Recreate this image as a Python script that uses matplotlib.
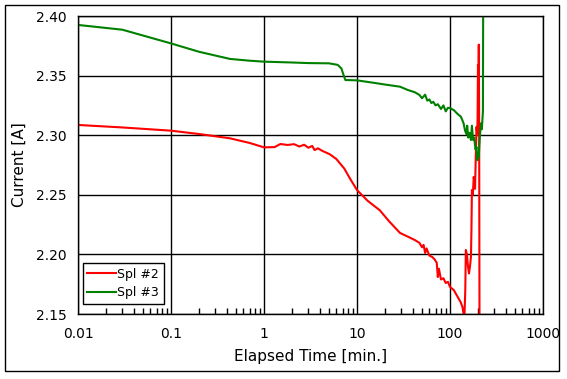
import numpy as np
import matplotlib
matplotlib.use("Agg")
import matplotlib.pyplot as plt
from matplotlib.patches import Rectangle
from matplotlib.ticker import LogLocator, NullFormatter

# values (time in min, current in A)
t_spl2 = [0.01, 0.03, 0.1, 0.2, 0.43, 0.7, 1.0, 1.3, 1.5, 1.8, 2.1, 2.4, 2.7, 3.0, 3.3, 3.5, 3.8, 4.2,
          5.1, 6.0, 7.3, 8.5, 10, 13, 17.6, 22, 29, 35, 42, 47, 50, 52, 54, 56, 60, 64, 68, 72, 74, 76,
          80, 85, 90, 95, 100, 110, 121, 130, 136, 140, 143, 146, 148, 152, 156, 160, 164, 168, 170,
          172, 176, 180, 186, 189, 193, 196, 198, 200, 202, 204, 206, 208, 210]
i_spl2 = [2.3086, 2.3065, 2.3038, 2.3010, 2.2974, 2.2935, 2.2898, 2.2900, 2.2926, 2.2918, 2.2925, 2.2905,
          2.2920, 2.2895, 2.2910, 2.2875, 2.2890, 2.2870, 2.2840, 2.2800, 2.2720, 2.2630, 2.2540,
          2.2450, 2.2370, 2.2280, 2.2180, 2.2150, 2.2120, 2.2096, 2.2060, 2.2080, 2.2012, 2.2050,
          2.1990, 2.1980, 2.1960, 2.1930, 2.1810, 2.1880, 2.1790, 2.1800, 2.1760, 2.1770, 2.1727,
          2.1700, 2.1643, 2.1600, 2.1560, 2.1500, 2.1480, 2.1700, 2.2037, 2.2000, 2.1900, 2.1840,
          2.1900, 2.1980, 2.2200, 2.2540, 2.2500, 2.2650, 2.2550, 2.2800, 2.3070, 2.3000, 2.3140,
          2.3590, 2.3300, 2.3760, 2.3000, 2.1000, 2.1000]

t_spl3 = [0.01, 0.03, 0.1, 0.2, 0.43, 0.7, 1.0, 2.0, 3.0, 5.0, 6.2, 6.8, 7.2, 7.5, 10, 15, 20, 29,
          35, 42, 47, 50, 54, 57, 60, 63, 66, 70, 74, 77, 80, 85, 90, 95, 100, 110, 120, 131, 140,
          145, 150, 153, 157, 162, 168, 172, 177, 182, 188, 193, 197, 200, 204, 208, 212, 216, 220,
          224, 226, 228]
i_spl3 = [2.3925, 2.3885, 2.3770, 2.3700, 2.3640, 2.3625, 2.3617, 2.3610, 2.3605, 2.3603, 2.3590,
          2.3560, 2.3500, 2.3463, 2.3460, 2.3440, 2.3425, 2.3407, 2.3380, 2.3360, 2.3337, 2.3310,
          2.3340, 2.3290, 2.3300, 2.3270, 2.3280, 2.3250, 2.3260, 2.3240, 2.3220, 2.3250, 2.3200,
          2.3230, 2.3228, 2.3210, 2.3180, 2.3155, 2.3100, 2.3040, 2.3010, 2.3080, 2.2980, 2.3020,
          2.2960, 2.3080, 2.2960, 2.2980, 2.2880, 2.2900, 2.2790, 2.2850, 2.2820, 2.2950, 2.3040,
          2.3100, 2.3050, 2.3150, 2.3200, 2.4500]

x_ticks = [0.01, 0.1, 1, 10, 100, 1000]
x_labels = ["0.01", "0.1", "1", "10", "100", "1000"]
y_ticks = [2.15, 2.20, 2.25, 2.30, 2.35, 2.40]

plt.rcParams["font.family"] = "DejaVu Sans"
fig = plt.figure(figsize=(5.67, 3.79), dpi=100)
ax = fig.add_axes([78 / 567, 65 / 379, 465 / 567, 298 / 379])

ax.plot(t_spl2, i_spl2, color="red", lw=1.5, label="Spl #2")
ax.plot(t_spl3, i_spl3, color="green", lw=1.5, label="Spl #3")

ax.set_xscale("log")
ax.set_xlim(0.01, 1000)
ax.set_ylim(2.15, 2.40)
ax.set_xticks(x_ticks)
ax.set_xticklabels(x_labels)
ax.xaxis.set_minor_locator(LogLocator(base=10, subs=np.arange(2, 10)))
ax.xaxis.set_minor_formatter(NullFormatter())
ax.set_yticks(y_ticks)
ax.set_yticklabels([f"{v:.2f}" for v in y_ticks])

ax.tick_params(axis="x", which="major", direction="in", length=0, labelsize=10, pad=9)
ax.tick_params(axis="x", which="minor", direction="in", length=4, width=1)
ax.tick_params(axis="y", length=0, labelsize=10, pad=8)
ax.grid(True, which="major", color="black", lw=1)
for s in ax.spines.values():
    s.set_linewidth(1)

ax.set_xlabel("Elapsed Time [min.]", fontsize=11, labelpad=6)
ax.set_ylabel("Current [A]", fontsize=11, labelpad=7)

leg = ax.legend(loc="lower left", fancybox=False, edgecolor="black", framealpha=1,
                fontsize=9, handlelength=2.3, handletextpad=0.1, borderpad=0.35,
                labelspacing=0.45, borderaxespad=0, bbox_to_anchor=(0.011, 0.034))
leg.get_frame().set_linewidth(1)

fig.patches.append(Rectangle((5 / 567, 8 / 379), 554 / 567, 366 / 379, transform=fig.transFigure,
                             fill=False, edgecolor="black", lw=1))

fig.savefig("out.png", dpi=100)
